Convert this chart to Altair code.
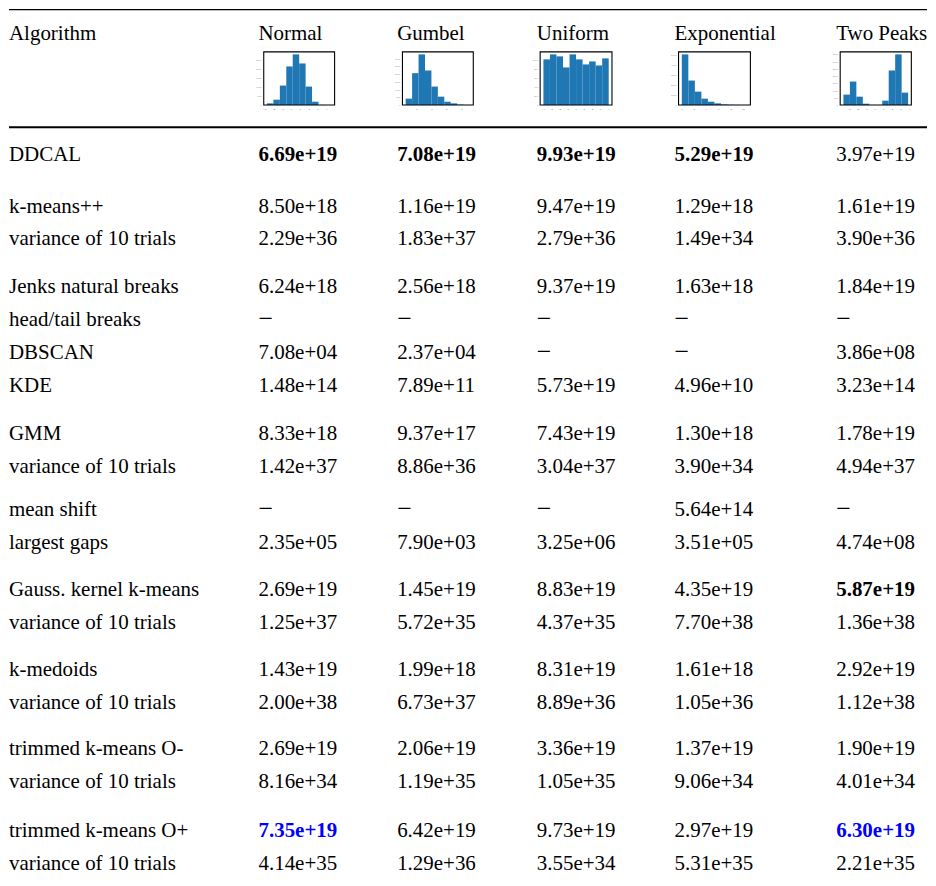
import altair as alt
import pandas as pd

# ---------------- data ----------------
algorithms = [
    "DDCAL",
    "k-means++", "variance of 10 trials",
    "Jenks natural breaks", "head/tail breaks", "DBSCAN", "KDE",
    "GMM", "variance of 10 trials",
    "mean shift", "largest gaps",
    "Gauss. kernel k-means", "variance of 10 trials",
    "k-medoids", "variance of 10 trials",
    "trimmed k-means O-", "variance of 10 trials",
    "trimmed k-means O+", "variance of 10 trials",
]
group_sizes = [1, 2, 4, 2, 2, 2, 2, 2, 2]
distributions = ["Normal", "Gumbel", "Uniform", "Exponential", "Two Peaks"]
D = "\u2212"
normal = ["6.69e+19", "8.50e+18", "2.29e+36", "6.24e+18", D, "7.08e+04", "1.48e+14",
          "8.33e+18", "1.42e+37", D, "2.35e+05", "2.69e+19", "1.25e+37", "1.43e+19",
          "2.00e+38", "2.69e+19", "8.16e+34", "7.35e+19", "4.14e+35"]
gumbel = ["7.08e+19", "1.16e+19", "1.83e+37", "2.56e+18", D, "2.37e+04", "7.89e+11",
          "9.37e+17", "8.86e+36", D, "7.90e+03", "1.45e+19", "5.72e+35", "1.99e+18",
          "6.73e+37", "2.06e+19", "1.19e+35", "6.42e+19", "1.29e+36"]
uniform = ["9.93e+19", "9.47e+19", "2.79e+36", "9.37e+19", D, D, "5.73e+19",
           "7.43e+19", "3.04e+37", D, "3.25e+06", "8.83e+19", "4.37e+35", "8.31e+19",
           "8.89e+36", "3.36e+19", "1.05e+35", "9.73e+19", "3.55e+34"]
exponential = ["5.29e+19", "1.29e+18", "1.49e+34", "1.63e+18", D, D, "4.96e+10",
               "1.30e+18", "3.90e+34", "5.64e+14", "3.51e+05", "4.35e+19", "7.70e+38",
               "1.61e+18", "1.05e+36", "1.37e+19", "9.06e+34", "2.97e+19", "5.31e+35"]
two_peaks = ["3.97e+19", "1.61e+19", "3.90e+36", "1.84e+19", D, "3.86e+08", "3.23e+14",
             "1.78e+19", "4.94e+37", D, "4.74e+08", "5.87e+19", "1.36e+38", "2.92e+19",
             "1.12e+38", "1.90e+19", "4.01e+34", "6.30e+19", "2.21e+35"]
value_columns = [normal, gumbel, uniform, exponential, two_peaks]

# (row, column) cells shown in bold black / bold blue
bold_cells = [(0, 0), (0, 1), (0, 2), (0, 3), (11, 4)]
blue_cells = [(17, 0), (17, 4)]

# histogram counts (10 bins each) and axis details of the small header plots
hist_counts = [
    [93, 296, 1074, 2130, 2796, 2296, 1019, 185, 6, 1],
    [413, 2065, 3283, 2239, 1196, 543, 217, 109, 25, 5],
    [1023, 1135, 1090, 842, 1135, 1023, 910, 977, 887, 1045],
    [5033, 2433, 1333, 633, 333, 167, 60, 25, 8, 3],
    [718, 1620, 579, 93, 0, 0, 301, 2384, 3495, 856],
]
hist_lo = [-2.78, -0.76, -4.0, 0.0, -3.67]
hist_w = [0.731, 0.433, 0.8, 1.06, 0.75]
hist_xticks = [[-3, -2, -1, 0, 1, 2, 3, 4], [0, 1, 2, 3],
               [-4, -3, -2, -1, 0, 1, 2, 3, 4], [0, 2, 4, 6, 8, 10],
               [-3, -2, -1, 0, 1, 2, 3, 4]]
hist_yticks = [list(range(0, 2501, 500)), list(range(0, 3001, 500)),
               list(range(0, 1001, 200)), list(range(0, 5001, 1000)),
               list(range(0, 3501, 500))]

# ---------------- layout (reference pixel coordinates) ----------------
W, H = 920, 870
OFF = 8
col_x = [7, 258, 397, 537, 675, 837]
header_y = 39
first_row_y = 160.5
row_step = 33
group_gaps = [51.5, 47.5, 48.5, 43, 47.5, 47, 46, 49]
box_left = [263.3, 402.3, 540.3, 679, 841]
box_right = [334.3, 473.3, 612.3, 751, 912.3]
box_top, box_bottom = 51, 104.3
top_rule_y, mid_rule_y = 6, 126.5
FONT = "Liberation Serif"
FS = 21
BAR = "#1f77b4"

row_y = []
yy = first_row_y
for g, n in enumerate(group_sizes):
    if g > 0:
        yy += group_gaps[g - 1]
    for k in range(n):
        if k > 0:
            yy += row_step
        row_y.append(yy)

def cx(v):
    return max(0.0, v - OFF)

def cy(v):
    return max(0.0, v - OFF)

xs = alt.Scale(domain=[0, W], range=[0, W], nice=False, zero=False)
ys = alt.Scale(domain=[0, H], range=[0, H], nice=False, zero=False)

# ---------------- text table ----------------
recs = []
for c, name in enumerate(["Algorithm"] + distributions):
    recs.append(dict(text=name, x=cx(col_x[c]), y=cy(header_y), color="black", weight="normal"))
for r, alg in enumerate(algorithms):
    recs.append(dict(text=alg, x=cx(col_x[0]), y=cy(row_y[r]), color="black", weight="normal"))
    for c, col in enumerate(value_columns):
        w, colr = "normal", "black"
        if col[r] == D:
            w = "dash"
        if (r, c) in bold_cells:
            w = "bold"
        if (r, c) in blue_cells:
            w, colr = "bold", "#0000ff"
        recs.append(dict(text=col[r], x=cx(col_x[c + 1]), y=cy(row_y[r]), color=colr, weight=w))
tdf = pd.DataFrame(recs)

def text_layer(weight, fs=FS, dy=0, dx=0):
    fw = "bold" if weight == "bold" else "normal"
    return alt.Chart(tdf[tdf.weight == weight]).mark_text(
        font=FONT, fontSize=fs, fontWeight=fw, align="left", baseline="alphabetic", dy=dy, dx=dx
    ).encode(
        x=alt.X("x:Q", scale=xs, axis=None),
        y=alt.Y("y:Q", scale=ys, axis=None),
        text="text:N",
        color=alt.Color("color:N", scale=None),
    )

layers = [text_layer("normal"), text_layer("bold"), text_layer("dash", fs=26, dy=1.5, dx=0)]

# ---------------- rules ----------------
def rule(yv, sw):
    return alt.Chart(pd.DataFrame({"a": [0]})).mark_rule(color="black", strokeWidth=sw).encode(
        x=alt.X(datum=0, type="quantitative", scale=xs, axis=None),
        x2=alt.X2(datum=W),
        y=alt.Y(datum=max(0.7, yv - OFF), type="quantitative", scale=ys, axis=None),
    )

layers += [rule(top_rule_y, 1.4), rule(mid_rule_y, 2.0)]

# ---------------- histograms ----------------
for i in range(5):
    lo, w = hist_lo[i], hist_w[i]
    counts = hist_counts[i]
    dlo, dhi = lo - 0.5 * w, lo + 10.5 * w
    ytop = max(counts) * 1.05
    hx = alt.Scale(domain=[dlo, dhi], range=[box_left[i] - OFF, box_right[i] - OFF], nice=False, zero=False)
    hy = alt.Scale(domain=[0, ytop], range=[box_bottom - OFF, box_top - OFF], nice=False, zero=False)
    bdf = pd.DataFrame({
        "x0": [lo + k * w for k in range(10)],
        "x1": [lo + (k + 1) * w for k in range(10)],
        "n": counts,
    })
    bars = alt.Chart(bdf).mark_rect(color=BAR).encode(
        x=alt.X("x0:Q", scale=hx, axis=None), x2="x1:Q",
        y=alt.Y("n:Q", scale=hy, axis=None), y2=alt.Y2(datum=0),
    )
    frame = alt.Chart(pd.DataFrame({"a": [0]})).mark_rect(
        fill="transparent", stroke="black", strokeWidth=1.1
    ).encode(
        x=alt.X(datum=dlo, type="quantitative", scale=hx, axis=None), x2=alt.X2(datum=dhi),
        y=alt.Y(datum=0, type="quantitative", scale=hy, axis=None), y2=alt.Y2(datum=ytop),
    )
    ytk = pd.DataFrame({"v": hist_yticks[i], "t": [str(v) for v in hist_yticks[i]]})
    ylab = alt.Chart(ytk).mark_text(fontSize=2.5, color="#999999", align="right", baseline="middle", dx=-2).encode(
        x=alt.X(datum=dlo, type="quantitative", scale=hx, axis=None),
        y=alt.Y("v:Q", scale=hy, axis=None), text="t:N",
    )
    xtk = pd.DataFrame({"v": hist_xticks[i], "t": [str(v).replace("-", "\u2212") for v in hist_xticks[i]]})
    xlab = alt.Chart(xtk).mark_text(fontSize=2.5, color="#666666", align="center", baseline="top", dy=2.5).encode(
        x=alt.X("v:Q", scale=hx, axis=None),
        y=alt.Y(datum=0, type="quantitative", scale=hy, axis=None), text="t:N",
    )
    layers += [bars, frame, ylab, xlab]

chart = alt.layer(*layers).resolve_scale(x="independent", y="independent").properties(
    width=W, height=H, padding=0, background="white"
).configure_view(stroke=None)

chart.save("out.html", embed_options={"renderer": "svg", "actions": False})
